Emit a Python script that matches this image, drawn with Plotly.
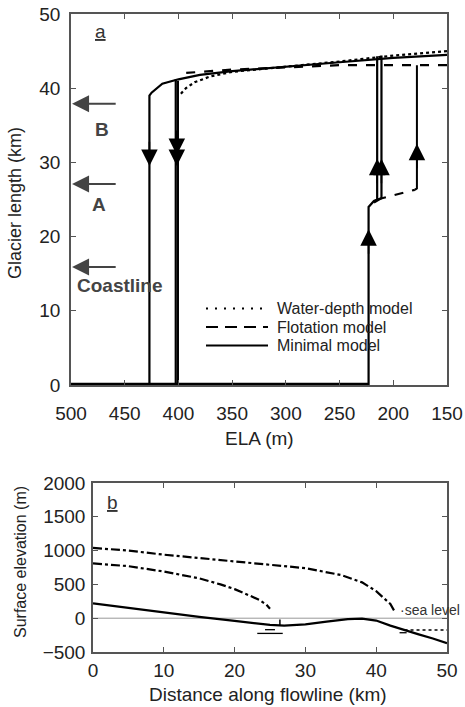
import plotly.graph_objects as go

# ---------------- Panel a data ----------------
# Minimal model (solid)
min_top_ela = [150, 200, 250, 300, 350, 380, 400, 415, 425, 427, 427]
min_top_len = [44.5, 44.1, 43.5, 42.9, 42.3, 41.8, 41.2, 40.6, 39.4, 39.0, 0]
min_adv_ela = [500, 223, 223, 218, 215, 215]
min_adv_len = [0, 0, 24.0, 24.8, 25.0, 44.3]
# Flotation model (dashed)
flo_top_ela = [150, 200, 250, 300, 350, 380, 398]
flo_top_len = [43.1, 43.1, 43.1, 42.8, 42.5, 42.2, 42.0]
flo_ret_ela = [402.5, 402.5]
flo_ret_len = [41.2, 0]
flo_step_ela = [215, 200, 180]
flo_step_len = [25.0, 25.6, 26.3]
flo_adv_ela = [180, 178, 178]
flo_adv_len = [26.3, 26.5, 43.1]
# Water-depth model (dotted)
wd_top_ela = [150, 200, 250, 300, 350, 370, 385, 393, 398]
wd_top_len = [45.0, 44.4, 43.6, 42.9, 42.2, 41.6, 40.8, 40.0, 39.2]
wd_adv_ela = [218, 211, 211]
wd_adv_len = [24.6, 25.2, 44.4]
wd_ret_ela = [400.5, 400.5]
wd_ret_len = [41.0, 0]

# arrows along hysteresis branches (tip ela, tip len, tail len)
arr_ela = [427, 401.5, 401.5, 223, 215, 211, 178]
arr_tip = [29.5, 29.5, 31.0, 21.0, 30.5, 30.5, 32.5]
arr_tail = [33.0, 33.0, 34.5, 17.5, 27.0, 27.0, 29.0]

# reference positions (left arrows)
ref_labels = ["B", "A", "Coastline"]
ref_len = [37.9, 27.1, 15.9]
ref_text_len = [34.4, 24.3, 13.4]
ref_text_ela = [471, 474, 454]

legend_names = ["Water-depth model", "Flotation model", "Minimal model"]
legend_dash = ["2px,7px", "12px,7px", "solid"]

# ---------------- Panel b data ----------------
bed_x = [0, 5, 10, 15, 20, 23, 25, 27, 30, 33, 36, 38, 40, 42, 44, 46, 48, 50]
bed_y = [220, 150, 85, 20, -40, -80, -100, -110, -90, -50, -15, -5, -35, -110, -180, -240, -300, -370]
surf1_x = [0, 5, 10, 15, 20, 25, 30, 35, 38, 40, 41, 42, 42.6]
surf1_y = [1040, 1000, 940, 890, 830, 790, 740, 640, 530, 400, 310, 210, 100]
surf2_x = [0, 5, 10, 15, 18, 20, 22, 23.5, 24.5, 25]
surf2_y = [810, 770, 690, 590, 500, 430, 340, 270, 200, 140]
sea_x = [0, 50]
sea_y = [0, 0]
water_x = [44, 50]
water_y = [-175, -175]

fig = go.Figure()
blk = "black"

def add(x, y, dash="solid", w=2.2, xa="x", ya="y", color=blk):
    fig.add_trace(go.Scatter(x=x, y=y, mode="lines", xaxis=xa, yaxis=ya,
                             line=dict(color=color, width=w, dash=dash),
                             showlegend=False, hoverinfo="skip"))

# bottom thick line at 0
add([500, 223], [0, 0], w=4.5)
add(min_top_ela, min_top_len, "solid", 2.2)
add(min_adv_ela, min_adv_len, "solid", 2.2)
add(flo_top_ela, flo_top_len, "dash", 2.2)
add(flo_ret_ela, flo_ret_len, "solid", 2.2)
add(flo_step_ela, flo_step_len, "dash", 2.2)
add(flo_adv_ela, flo_adv_len, "solid", 2.0)
add(wd_top_ela, wd_top_len, "dot", 2.2)
add(wd_adv_ela, wd_adv_len, "solid", 2.2)
add(wd_ret_ela, wd_ret_len, "solid", 2.2)

# panel b
add(sea_x, sea_y, "solid", 1, "x2", "y2", color="#999999")
add(water_x, water_y, "dot", 1.5, "x2", "y2")
add(bed_x, bed_y, "solid", 2.2, "x2", "y2")
add(surf1_x, surf1_y, "dashdot", 2.2, "x2", "y2")
add(surf2_x, surf2_y, "dashdot", 2.2, "x2", "y2")
# small water-level symbols
add([24.3, 25.7], [-170, -170], "solid", 1.3, "x2", "y2")
add([23.2, 26.8], [-225, -225], "solid", 1.3, "x2", "y2")
add([43.3, 44.3], [-215, -215], "solid", 1.3, "x2", "y2")
add([26.4, 26.4], [-105, -20], "solid", 1.5, "x2", "y2")

annotations = []
for e, t, tl in zip(arr_ela, arr_tip, arr_tail):
    annotations.append(dict(x=e, y=t, ax=e, ay=tl, xref="x", yref="y", axref="x", ayref="y",
                            text="", showarrow=True, arrowhead=2, arrowsize=2.2, arrowwidth=1.5,
                            arrowcolor=blk))
for lab, L, tL, tE in zip(ref_labels, ref_len, ref_text_len, ref_text_ela):
    annotations.append(dict(x=499, y=L, ax=457, ay=L, xref="x", yref="y", axref="x", ayref="y",
                            text="", showarrow=True, arrowhead=2, arrowsize=1.7, arrowwidth=2,
                            arrowcolor="#444444"))
    annotations.append(dict(x=tE, y=tL, xref="x", yref="y", text="<b>%s</b>" % lab, showarrow=False,
                            xanchor="center", yanchor="middle",
                            font=dict(size=19, color="#444444")))
annotations.append(dict(x=473, y=47.6, xref="x", yref="y", text="<u>a</u>", showarrow=False,
                        xanchor="center", yanchor="middle", font=dict(size=19, color="#333333")))
annotations.append(dict(x=2.8, y=1718, xref="x2", yref="y2", text="<u>b</u>", showarrow=False,
                        xanchor="center", yanchor="middle", font=dict(size=19, color="#333333")))
annotations.append(dict(x=43.1, y=120, xref="x2", yref="y2", text="·sea level", showarrow=False,
                        xanchor="left", yanchor="middle", font=dict(size=14, color="#333333")))

# axis titles
annotations += [
    dict(x=259 / 465, y=1 - 438 / 707, xref="paper", yref="paper", text="ELA (m)", showarrow=False,
         xanchor="center", yanchor="middle", font=dict(size=19)),
    dict(x=15 / 465, y=1 - 203 / 707, xref="paper", yref="paper", text="Glacier length (km)",
         showarrow=False, textangle=-90, xanchor="center", yanchor="middle", font=dict(size=18)),
    dict(x=268 / 465, y=1 - 694 / 707, xref="paper", yref="paper", text="Distance along flowline (km)",
         showarrow=False, xanchor="center", yanchor="middle", font=dict(size=19)),
    dict(x=20 / 465, y=1 - 562 / 707, xref="paper", yref="paper", text="Surface elevation (m)",
         showarrow=False, textangle=-90, xanchor="center", yanchor="middle", font=dict(size=16)),
]

# manual legend
shapes = []
leg_y = [308.5, 327, 345.5]
for nm, ds, yy in zip(legend_names, legend_dash, leg_y):
    shapes.append(dict(type="line", xref="paper", yref="paper", x0=206 / 465, x1=268 / 465,
                       y0=1 - yy / 707, y1=1 - yy / 707, line=dict(color=blk, width=2, dash=ds)))
    annotations.append(dict(x=275 / 465, y=1 - yy / 707, xref="paper", yref="paper", text=nm,
                            showarrow=False, xanchor="left", yanchor="middle",
                            font=dict(size=16, color="#222222")))

axis_common = dict(showline=True, linecolor="#555555", linewidth=1.5, mirror="ticks", ticks="inside",
                   ticklen=5, tickcolor="#555555", showgrid=False, zeroline=False, automargin=False,
                   tickfont=dict(size=19, color="#222222"))

fig.update_layout(
    width=465, height=707, margin=dict(l=0, r=0, t=0, b=0),
    paper_bgcolor="white", plot_bgcolor="white",
    font=dict(family="Liberation Sans, Arial, sans-serif", color="#222222"),
    annotations=annotations, shapes=shapes, showlegend=False,
    xaxis=dict(domain=[71 / 465, 447 / 465], anchor="y", range=[500, 150], dtick=50,
               ticklabelstandoff=10, **axis_common),
    yaxis=dict(domain=[1 - 385 / 707, 1 - 14 / 707], anchor="x", range=[0, 50], dtick=10,
               ticklabelstandoff=5, **axis_common),
    xaxis2=dict(domain=[93 / 465, 447 / 465], anchor="y2", range=[0, 50], dtick=10,
                ticklabelstandoff=0, **axis_common),
    yaxis2=dict(domain=[1 - 652 / 707, 1 - 483 / 707], anchor="x2", range=[-500, 2000], dtick=500,
                ticklabelstandoff=2, **axis_common),
)

fig.write_html("out.html")
